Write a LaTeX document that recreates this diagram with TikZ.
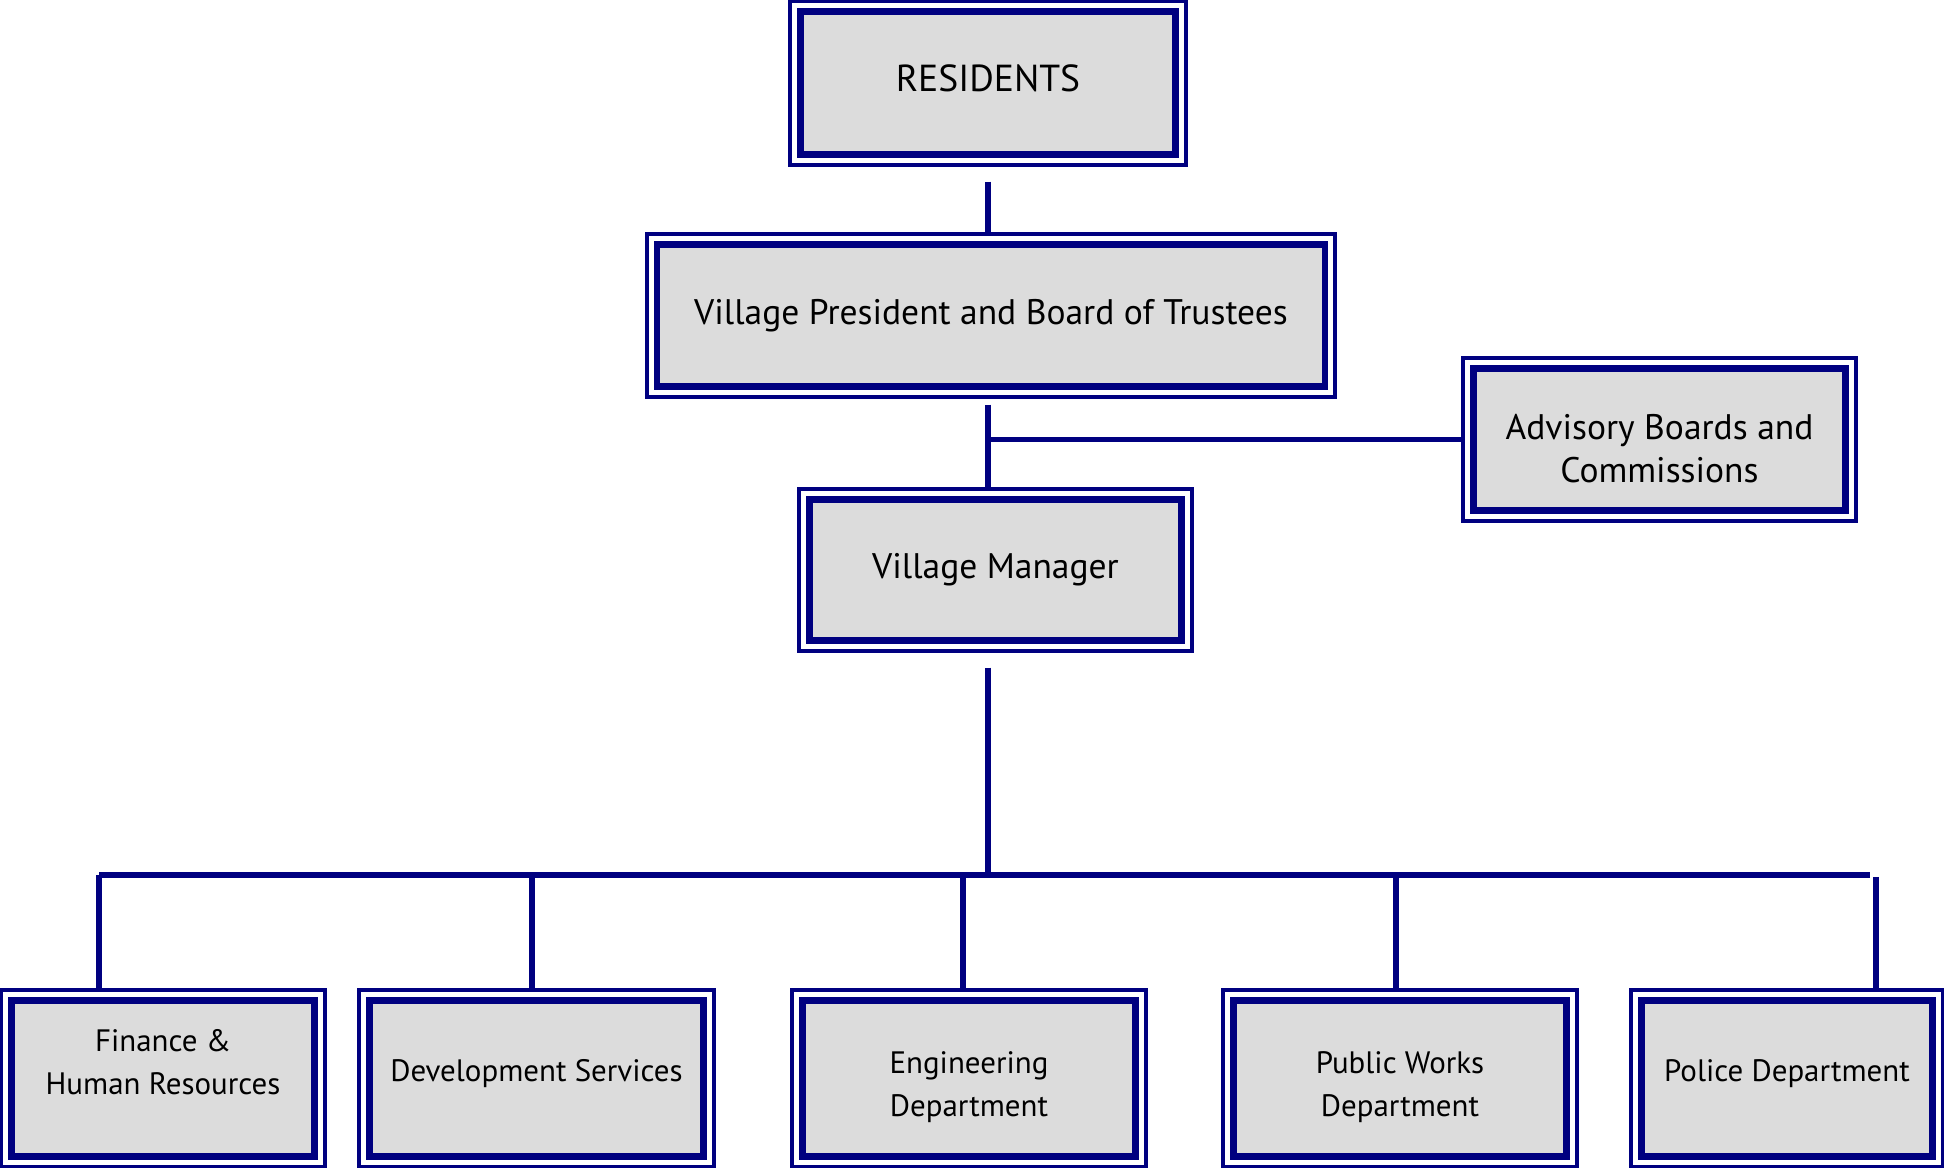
\documentclass[tikz,border=0pt]{standalone}
\usepackage{fontspec}
\setmainfont{PT Sans}
\usetikzlibrary{positioning}
\definecolor{orgnavy}{RGB}{0,0,128}
\definecolor{orggray}{RGB}{220,220,220}

\begin{document}
\begin{tikzpicture}[
      x=0.01cm, y=-0.01cm,
      every node/.style={align=center},
      unit/.style={
        draw=orgnavy,
        line width=1.15pt,
        fill=white,
        inner sep=0pt,
        path picture={
          \draw[orgnavy, line width=1.85pt, fill=orggray]
            ([shift={(10,10)}]path picture bounding box.north west) rectangle
            ([shift={(-10,-10)}]path picture bounding box.south east);
        }
      },
      dept/.style={unit, minimum height=1.76cm},
      toptext/.style={font=\fontsize{10.1}{12.2}\selectfont},
      depttext/.style={font=\fontsize{8.8}{12.2}\selectfont},
      link/.style={draw=orgnavy, line width=1.5pt}
    ]

    \useasboundingbox (0,0) rectangle (1944,1168);

    % Residents and council
    \node[unit, minimum width=3.95cm, minimum height=1.63cm] (residents) at (988,83) {};
    \node[unit, minimum width=6.88cm, minimum height=1.62cm] (board) at (991,315.5) {};
    \node[unit, minimum width=3.92cm, minimum height=1.62cm] (advisory) at (1659.5,439.5) {};
    \node[unit, minimum width=3.92cm, minimum height=1.61cm] (manager) at (995.5,570) {};

    \node[toptext, font=\fontsize{10.7}{12.2}\selectfont] (residents-text) at ([yshift=0.05cm]residents.center) {RESIDENTS};
    \node[toptext] (board-text) at (board.center) {Village President and Board of Trustees};
    \node[toptext] (advisory-text) at ([yshift=-0.09cm]advisory.center) {Advisory Boards and\\Commissions};
    \node[toptext] (manager-text) at (manager.center) {Village Manager};

    % Departments
    \node[dept, minimum width=3.23cm] (finance) at (163,1078.5) {};
    \node[dept, minimum width=3.54cm] (devserv) at (536.5,1078.5) {};
    \node[dept, minimum width=3.53cm] (engineering) at (969,1078.5) {};
    \node[dept, minimum width=3.53cm] (publicworks) at (1400,1078.5) {};
    \node[dept, minimum width=3.11cm] (police) at (1787,1078.5) {};

    \node[depttext] (finance-text) at ([yshift=0.16cm]finance.center) {Finance \&\\Human Resources};
    \node[depttext] (devserv-text) at ([yshift=0.05cm]devserv.center) {Development Services};
    \node[depttext] (engineering-text) at ([yshift=-0.09cm]engineering.center) {Engineering\\Department};
    \node[depttext] (publicworks-text) at ([yshift=-0.09cm]publicworks.center) {Public Works\\Department};
    \node[depttext] (police-text) at ([yshift=0.05cm]police.center) {Police Department};

    % Lines
    \draw[link] ([yshift=-0.15cm]residents.south) -- (residents.south |- board.north);
    \draw[link] ([yshift=-0.06cm]board.south -| residents.south) -- ([yshift=-0.02cm]residents.south |- manager.north);
    \draw[link] (residents.south |- advisory.west) -- (advisory.west);

    \coordinate (bus) at (988,875);
    \coordinate (busend) at (1870,875);
    \draw[link] ([yshift=-0.15cm]manager.south -| bus) -- (bus);

    \coordinate (tap-finance) at (99,875);
    \coordinate (tap-devserv) at (532,875);
    \coordinate (tap-engineering) at (963,875);
    \coordinate (tap-publicworks) at (1396,875);
    \coordinate (tap-police) at (1876,877);
    \draw[link] (tap-finance) -- (busend);
    \foreach \d in {finance, devserv, engineering, publicworks, police}
      \draw[link] (tap-\d) -- (tap-\d |- \d.north);

\end{tikzpicture}
\end{document}
